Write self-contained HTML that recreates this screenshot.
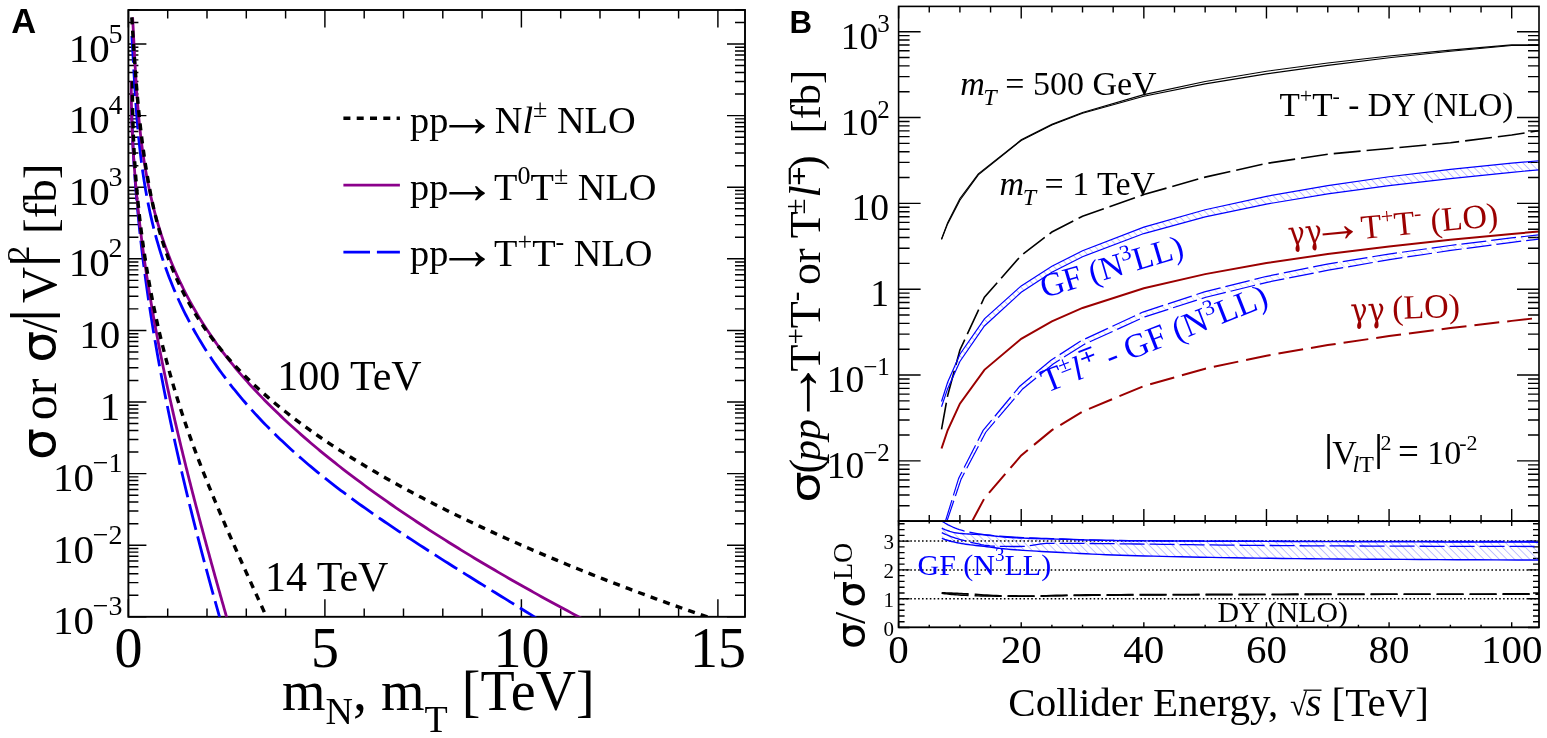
<!DOCTYPE html>
<html><head><meta charset="utf-8"><title>Cross sections</title>
<style>html,body{margin:0;padding:0;background:#fff;}svg{display:block;}</style></head>
<body><svg width="1547" height="738" viewBox="0 0 1547 738">
<rect width="1547" height="738" fill="#fff"/>
<path d="M128.4,616.8v-17.6M128.4,10v17.6M167.7,616.8v-8.4M167.7,10v8.4M207,616.8v-8.4M207,10v8.4M246.3,616.8v-8.4M246.3,10v8.4M285.6,616.8v-8.4M285.6,10v8.4M324.9,616.8v-17.6M324.9,10v17.6M364.2,616.8v-8.4M364.2,10v8.4M403.5,616.8v-8.4M403.5,10v8.4M442.8,616.8v-8.4M442.8,10v8.4M482.1,616.8v-8.4M482.1,10v8.4M521.4,616.8v-17.6M521.4,10v17.6M560.7,616.8v-8.4M560.7,10v8.4M600,616.8v-8.4M600,10v8.4M639.3,616.8v-8.4M639.3,10v8.4M678.6,616.8v-8.4M678.6,10v8.4M717.9,616.8v-17.6M717.9,10v17.6M128.4,616.8h18M745,616.8h-18M128.4,595.25h10M745,595.25h-10M128.4,582.64h10M745,582.64h-10M128.4,573.69h10M745,573.69h-10M128.4,566.75h10M745,566.75h-10M128.4,561.08h10M745,561.08h-10M128.4,556.29h10M745,556.29h-10M128.4,552.14h10M745,552.14h-10M128.4,548.48h10M745,548.48h-10M128.4,545.2h18M745,545.2h-18M128.4,523.65h10M745,523.65h-10M128.4,511.04h10M745,511.04h-10M128.4,502.09h10M745,502.09h-10M128.4,495.15h10M745,495.15h-10M128.4,489.48h10M745,489.48h-10M128.4,484.69h10M745,484.69h-10M128.4,480.54h10M745,480.54h-10M128.4,476.88h10M745,476.88h-10M128.4,473.6h18M745,473.6h-18M128.4,452.05h10M745,452.05h-10M128.4,439.44h10M745,439.44h-10M128.4,430.49h10M745,430.49h-10M128.4,423.55h10M745,423.55h-10M128.4,417.88h10M745,417.88h-10M128.4,413.09h10M745,413.09h-10M128.4,408.94h10M745,408.94h-10M128.4,405.28h10M745,405.28h-10M128.4,402h18M745,402h-18M128.4,380.45h10M745,380.45h-10M128.4,367.84h10M745,367.84h-10M128.4,358.89h10M745,358.89h-10M128.4,351.95h10M745,351.95h-10M128.4,346.28h10M745,346.28h-10M128.4,341.49h10M745,341.49h-10M128.4,337.34h10M745,337.34h-10M128.4,333.68h10M745,333.68h-10M128.4,330.4h18M745,330.4h-18M128.4,308.85h10M745,308.85h-10M128.4,296.24h10M745,296.24h-10M128.4,287.29h10M745,287.29h-10M128.4,280.35h10M745,280.35h-10M128.4,274.68h10M745,274.68h-10M128.4,269.89h10M745,269.89h-10M128.4,265.74h10M745,265.74h-10M128.4,262.08h10M745,262.08h-10M128.4,258.8h18M745,258.8h-18M128.4,237.25h10M745,237.25h-10M128.4,224.64h10M745,224.64h-10M128.4,215.69h10M745,215.69h-10M128.4,208.75h10M745,208.75h-10M128.4,203.08h10M745,203.08h-10M128.4,198.29h10M745,198.29h-10M128.4,194.14h10M745,194.14h-10M128.4,190.48h10M745,190.48h-10M128.4,187.2h18M745,187.2h-18M128.4,165.65h10M745,165.65h-10M128.4,153.04h10M745,153.04h-10M128.4,144.09h10M745,144.09h-10M128.4,137.15h10M745,137.15h-10M128.4,131.48h10M745,131.48h-10M128.4,126.69h10M745,126.69h-10M128.4,122.54h10M745,122.54h-10M128.4,118.88h10M745,118.88h-10M128.4,115.6h18M745,115.6h-18M128.4,94.05h10M745,94.05h-10M128.4,81.44h10M745,81.44h-10M128.4,72.49h10M745,72.49h-10M128.4,65.55h10M745,65.55h-10M128.4,59.88h10M745,59.88h-10M128.4,55.09h10M745,55.09h-10M128.4,50.94h10M745,50.94h-10M128.4,47.28h10M745,47.28h-10M128.4,44h18M745,44h-18M128.4,22.45h10M745,22.45h-10M128.4,9.84h10M745,9.84h-10" stroke="#000" stroke-width="1.45" fill="none"/>
<rect x="128.4" y="10.0" width="616.6" height="606.8" fill="none" stroke="#000" stroke-width="1.9"/>
<text x="128.4" y="667" font-family="'Liberation Serif','Times New Roman',serif" font-size="56" fill="#000" text-anchor="middle" >0</text>
<text x="324.9" y="667" font-family="'Liberation Serif','Times New Roman',serif" font-size="56" fill="#000" text-anchor="middle" >5</text>
<text x="521.4" y="667" font-family="'Liberation Serif','Times New Roman',serif" font-size="56" fill="#000" text-anchor="middle" >10</text>
<text x="717.9" y="667" font-family="'Liberation Serif','Times New Roman',serif" font-size="56" fill="#000" text-anchor="middle" >15</text>
<text x="122.6" y="634.3" font-family="'Liberation Serif','Times New Roman',serif" font-size="41" fill="#000" text-anchor="end" >10<tspan dx="-1.2" dy="-19" font-size="28">−3</tspan></text>
<text x="122.6" y="562.7" font-family="'Liberation Serif','Times New Roman',serif" font-size="41" fill="#000" text-anchor="end" >10<tspan dx="-1.2" dy="-19" font-size="28">−2</tspan></text>
<text x="122.6" y="491.1" font-family="'Liberation Serif','Times New Roman',serif" font-size="41" fill="#000" text-anchor="end" >10<tspan dx="-1.2" dy="-19" font-size="28">−1</tspan></text>
<text x="120.3" y="419.5" font-family="'Liberation Serif','Times New Roman',serif" font-size="41" fill="#000" text-anchor="end" >1</text>
<text x="120.3" y="347.9" font-family="'Liberation Serif','Times New Roman',serif" font-size="41" fill="#000" text-anchor="end" >10</text>
<text x="122.6" y="276.3" font-family="'Liberation Serif','Times New Roman',serif" font-size="41" fill="#000" text-anchor="end" >10<tspan dx="-1.2" dy="-19" font-size="28">2</tspan></text>
<text x="122.6" y="204.7" font-family="'Liberation Serif','Times New Roman',serif" font-size="41" fill="#000" text-anchor="end" >10<tspan dx="-1.2" dy="-19" font-size="28">3</tspan></text>
<text x="122.6" y="133.1" font-family="'Liberation Serif','Times New Roman',serif" font-size="41" fill="#000" text-anchor="end" >10<tspan dx="-1.2" dy="-19" font-size="28">4</tspan></text>
<text x="122.6" y="61.5" font-family="'Liberation Serif','Times New Roman',serif" font-size="41" fill="#000" text-anchor="end" >10<tspan dx="-1.2" dy="-19" font-size="28">5</tspan></text>
<text x="282" y="710" font-family="'Liberation Serif','Times New Roman',serif" font-size="56" fill="#000" text-anchor="start" >m<tspan dy="14" font-size="38">N</tspan><tspan dy="-14">, m</tspan><tspan dy="21.8" font-size="38">T</tspan><tspan dy="-21.8"> [TeV]</tspan></text>
<path d="M898.6,521.1v-12M898.6,6.4v12M898.6,627.3v-5M898.6,521.1v5M929.25,521.1v-6M929.25,6.4v6M929.25,627.3v-2.5M929.25,521.1v2.5M959.91,521.1v-6M959.91,6.4v6M959.91,627.3v-2.5M959.91,521.1v2.5M990.57,521.1v-6M990.57,6.4v6M990.57,627.3v-2.5M990.57,521.1v2.5M1021.22,521.1v-12M1021.22,6.4v12M1021.22,627.3v-5M1021.22,521.1v5M1051.88,521.1v-6M1051.88,6.4v6M1051.88,627.3v-2.5M1051.88,521.1v2.5M1082.53,521.1v-6M1082.53,6.4v6M1082.53,627.3v-2.5M1082.53,521.1v2.5M1113.18,521.1v-6M1113.18,6.4v6M1113.18,627.3v-2.5M1113.18,521.1v2.5M1143.84,521.1v-12M1143.84,6.4v12M1143.84,627.3v-5M1143.84,521.1v5M1174.49,521.1v-6M1174.49,6.4v6M1174.49,627.3v-2.5M1174.49,521.1v2.5M1205.15,521.1v-6M1205.15,6.4v6M1205.15,627.3v-2.5M1205.15,521.1v2.5M1235.81,521.1v-6M1235.81,6.4v6M1235.81,627.3v-2.5M1235.81,521.1v2.5M1266.46,521.1v-12M1266.46,6.4v12M1266.46,627.3v-5M1266.46,521.1v5M1297.12,521.1v-6M1297.12,6.4v6M1297.12,627.3v-2.5M1297.12,521.1v2.5M1327.77,521.1v-6M1327.77,6.4v6M1327.77,627.3v-2.5M1327.77,521.1v2.5M1358.43,521.1v-6M1358.43,6.4v6M1358.43,627.3v-2.5M1358.43,521.1v2.5M1389.08,521.1v-12M1389.08,6.4v12M1389.08,627.3v-5M1389.08,521.1v5M1419.74,521.1v-6M1419.74,6.4v6M1419.74,627.3v-2.5M1419.74,521.1v2.5M1450.39,521.1v-6M1450.39,6.4v6M1450.39,627.3v-2.5M1450.39,521.1v2.5M1481.05,521.1v-6M1481.05,6.4v6M1481.05,627.3v-2.5M1481.05,521.1v2.5M1511.7,521.1v-12M1511.7,6.4v12M1511.7,627.3v-5M1511.7,521.1v5M898.6,520.9h11M1539,520.9h-11M898.6,505.78h11M1539,505.78h-11M898.6,495.06h11M1539,495.06h-11M898.6,486.74h11M1539,486.74h-11M898.6,479.94h11M1539,479.94h-11M898.6,474.2h11M1539,474.2h-11M898.6,469.22h11M1539,469.22h-11M898.6,464.83h11M1539,464.83h-11M898.6,460.9h22M1539,460.9h-22M898.6,435.06h11M1539,435.06h-11M898.6,419.94h11M1539,419.94h-11M898.6,409.22h11M1539,409.22h-11M898.6,400.9h11M1539,400.9h-11M898.6,394.1h11M1539,394.1h-11M898.6,388.36h11M1539,388.36h-11M898.6,383.38h11M1539,383.38h-11M898.6,378.99h11M1539,378.99h-11M898.6,375.06h22M1539,375.06h-22M898.6,349.22h11M1539,349.22h-11M898.6,334.1h11M1539,334.1h-11M898.6,323.38h11M1539,323.38h-11M898.6,315.06h11M1539,315.06h-11M898.6,308.26h11M1539,308.26h-11M898.6,302.52h11M1539,302.52h-11M898.6,297.54h11M1539,297.54h-11M898.6,293.15h11M1539,293.15h-11M898.6,289.22h22M1539,289.22h-22M898.6,263.38h11M1539,263.38h-11M898.6,248.26h11M1539,248.26h-11M898.6,237.54h11M1539,237.54h-11M898.6,229.22h11M1539,229.22h-11M898.6,222.42h11M1539,222.42h-11M898.6,216.68h11M1539,216.68h-11M898.6,211.7h11M1539,211.7h-11M898.6,207.31h11M1539,207.31h-11M898.6,203.38h22M1539,203.38h-22M898.6,177.54h11M1539,177.54h-11M898.6,162.42h11M1539,162.42h-11M898.6,151.7h11M1539,151.7h-11M898.6,143.38h11M1539,143.38h-11M898.6,136.58h11M1539,136.58h-11M898.6,130.84h11M1539,130.84h-11M898.6,125.86h11M1539,125.86h-11M898.6,121.47h11M1539,121.47h-11M898.6,117.54h22M1539,117.54h-22M898.6,91.7h11M1539,91.7h-11M898.6,76.58h11M1539,76.58h-11M898.6,65.86h11M1539,65.86h-11M898.6,57.54h11M1539,57.54h-11M898.6,50.74h11M1539,50.74h-11M898.6,45h11M1539,45h-11M898.6,40.02h11M1539,40.02h-11M898.6,35.63h11M1539,35.63h-11M898.6,31.7h22M1539,31.7h-22M898.6,627.5h11M1539,627.5h-11M898.6,621.74h6M1539,621.74h-6M898.6,615.98h6M1539,615.98h-6M898.6,610.22h6M1539,610.22h-6M898.6,604.46h6M1539,604.46h-6M898.6,598.7h11M1539,598.7h-11M898.6,592.94h6M1539,592.94h-6M898.6,587.18h6M1539,587.18h-6M898.6,581.42h6M1539,581.42h-6M898.6,575.66h6M1539,575.66h-6M898.6,569.9h11M1539,569.9h-11M898.6,564.14h6M1539,564.14h-6M898.6,558.38h6M1539,558.38h-6M898.6,552.62h6M1539,552.62h-6M898.6,546.86h6M1539,546.86h-6M898.6,541.1h11M1539,541.1h-11M898.6,535.34h6M1539,535.34h-6M898.6,529.58h6M1539,529.58h-6M898.6,523.82h6M1539,523.82h-6" stroke="#000" stroke-width="1.4" fill="none"/>
<line x1="898.6" y1="598.7" x2="1539" y2="598.7" stroke="#000" stroke-width="1.5" stroke-dasharray="1.6 2.3"/>
<line x1="898.6" y1="569.9" x2="1539" y2="569.9" stroke="#000" stroke-width="1.5" stroke-dasharray="1.6 2.3"/>
<line x1="898.6" y1="541.1" x2="1539" y2="541.1" stroke="#000" stroke-width="1.5" stroke-dasharray="1.6 2.3"/>
<clipPath id="clipA"><rect x="128.4" y="10.0" width="616.6" height="606.8"/></clipPath>
<g clip-path="url(#clipA)" fill="none">
<path d="M131.56,107 L131.6,108.74 L131.65,110.47 L131.69,112.21 L131.74,113.94 L131.79,115.68 L131.84,117.41 L131.89,119.15 L131.95,120.89 L132,122.62 L132.06,124.36 L132.13,126.09 L132.19,127.83 L132.26,129.57 L132.33,131.3 L132.4,133.04 L132.47,134.77 L132.55,136.51 L132.62,138.24 L132.7,139.98 L132.78,141.72 L132.87,143.45 L132.95,145.19 L133.04,146.92 L133.13,148.66 L133.22,150.39 L133.32,152.13 L133.41,153.87 L133.51,155.6 L133.61,157.34 L133.71,159.07 L133.82,160.81 L133.93,162.55 L134.03,164.28 L134.15,166.02 L134.26,167.75 L134.37,169.49 L134.49,171.22 L134.61,172.96 L134.73,174.7 L134.85,176.43 L134.98,178.17 L135.11,179.9 L135.23,181.64 L135.37,183.37 L135.5,185.11 L135.63,186.85 L135.77,188.58 L135.91,190.32 L136.05,192.05 L136.19,193.79 L136.34,195.53 L136.49,197.26 L136.64,199 L136.79,200.73 L136.94,202.47 L137.1,204.2 L137.25,205.94 L137.41,207.68 L137.57,209.41 L137.74,211.15 L137.9,212.88 L138.07,214.62 L138.24,216.35 L138.41,218.09 L138.58,219.83 L138.75,221.56 L138.93,223.3 L139.11,225.03 L139.29,226.77 L139.47,228.51 L139.65,230.24 L139.84,231.98 L140.03,233.71 L140.22,235.45 L140.41,237.18 L140.6,238.92 L140.8,240.66 L140.99,242.39 L141.19,244.13 L141.39,245.86 L141.6,247.6 L141.8,249.33 L142.01,251.07 L142.22,252.81 L142.43,254.54 L142.64,256.28 L142.85,258.01 L143.07,259.75 L143.28,261.48 L143.5,263.22 L143.72,264.96 L143.95,266.69 L144.17,268.43 L144.4,270.16 L144.63,271.9 L144.86,273.64 L145.09,275.37 L145.32,277.11 L145.56,278.84 L145.79,280.58 L146.03,282.31 L146.27,284.05 L146.52,285.79 L146.76,287.52 L147.01,289.26 L147.25,290.99 L147.5,292.73 L147.75,294.46 L148.01,296.2 L148.26,297.94 L148.52,299.67 L148.78,301.41 L149.03,303.14 L149.3,304.88 L149.56,306.62 L149.82,308.35 L150.09,310.09 L150.36,311.82 L150.63,313.56 L150.9,315.29 L151.17,317.03 L151.45,318.77 L151.72,320.5 L152,322.24 L152.28,323.97 L152.56,325.71 L152.85,327.44 L153.13,329.18 L153.42,330.92 L153.71,332.65 L153.99,334.39 L154.29,336.12 L154.58,337.86 L154.87,339.6 L155.17,341.33 L155.47,343.07 L155.77,344.8 L156.07,346.54 L156.37,348.27 L156.67,350.01 L156.98,351.75 L157.29,353.48 L157.6,355.22 L157.91,356.95 L158.22,358.69 L158.53,360.42 L158.85,362.16 L159.16,363.9 L159.48,365.63 L159.8,367.37 L160.12,369.1 L160.45,370.84 L160.77,372.58 L161.1,374.31 L161.42,376.05 L161.75,377.78 L162.08,379.52 L162.41,381.25 L162.75,382.99 L163.08,384.73 L163.42,386.46 L163.76,388.2 L164.1,389.93 L164.44,391.67 L164.78,393.4 L165.12,395.14 L165.47,396.88 L165.81,398.61 L166.16,400.35 L166.51,402.08 L166.86,403.82 L167.22,405.56 L167.57,407.29 L167.93,409.03 L168.28,410.76 L168.64,412.5 L169,414.23 L169.36,415.97 L169.72,417.71 L170.09,419.44 L170.45,421.18 L170.82,422.91 L171.19,424.65 L171.56,426.38 L171.93,428.12 L172.3,429.86 L172.67,431.59 L173.05,433.33 L173.43,435.06 L173.8,436.8 L174.18,438.54 L174.56,440.27 L174.94,442.01 L175.33,443.74 L175.71,445.48 L176.1,447.21 L176.49,448.95 L176.87,450.69 L177.26,452.42 L177.65,454.16 L178.05,455.89 L178.44,457.63 L178.84,459.36 L179.23,461.1 L179.63,462.84 L180.03,464.57 L180.43,466.31 L180.83,468.04 L181.23,469.78 L181.64,471.52 L182.04,473.25 L182.45,474.99 L182.86,476.72 L183.27,478.46 L183.68,480.19 L184.09,481.93 L184.5,483.67 L184.92,485.4 L185.33,487.14 L185.75,488.87 L186.17,490.61 L186.59,492.34 L187.01,494.08 L187.43,495.82 L187.85,497.55 L188.27,499.29 L188.7,501.02 L189.12,502.76 L189.55,504.49 L189.98,506.23 L190.41,507.97 L190.84,509.7 L191.27,511.44 L191.71,513.17 L192.14,514.91 L192.58,516.65 L193.01,518.38 L193.45,520.12 L193.89,521.85 L194.33,523.59 L194.77,525.32 L195.22,527.06 L195.66,528.8 L196.1,530.53 L196.55,532.27 L197,534 L197.44,535.74 L197.89,537.47 L198.34,539.21 L198.8,540.95 L199.25,542.68 L199.7,544.42 L200.16,546.15 L200.61,547.89 L201.07,549.63 L201.53,551.36 L201.99,553.1 L202.45,554.83 L202.91,556.57 L203.37,558.3 L203.83,560.04 L204.3,561.78 L204.76,563.51 L205.23,565.25 L205.7,566.98 L206.16,568.72 L206.63,570.45 L207.1,572.19 L207.57,573.93 L208.05,575.66 L208.52,577.4 L208.99,579.13 L209.47,580.87 L209.95,582.61 L210.42,584.34 L210.9,586.08 L211.38,587.81 L211.86,589.55 L212.34,591.28 L212.83,593.02 L213.31,594.76 L213.79,596.49 L214.28,598.23 L214.76,599.96 L215.25,601.7 L215.74,603.43 L216.23,605.17 L216.72,606.91 L217.21,608.64 L217.7,610.38 L218.19,612.11 L218.68,613.85 L219.18,615.59 L219.67,617.32 L220.17,619.06 L220.67,620.79 L221.16,622.53 L221.66,624.26 L222.16,626" stroke="#0000ff" stroke-width="2.8" stroke-dasharray="26.6 6.9"/>
<path d="M131.27,81.5 L131.27,83.32 L131.27,85.14 L131.27,86.96 L131.27,88.78 L131.28,90.61 L131.29,92.43 L131.31,94.25 L131.32,96.07 L131.34,97.89 L131.37,99.71 L131.4,101.53 L131.42,103.35 L131.46,105.17 L131.49,106.99 L131.53,108.82 L131.57,110.64 L131.62,112.46 L131.67,114.28 L131.72,116.1 L131.77,117.92 L131.83,119.74 L131.89,121.56 L131.95,123.38 L132.02,125.21 L132.09,127.03 L132.16,128.85 L132.23,130.67 L132.31,132.49 L132.39,134.31 L132.47,136.13 L132.56,137.95 L132.65,139.77 L132.74,141.6 L132.84,143.42 L132.93,145.24 L133.03,147.06 L133.14,148.88 L133.24,150.7 L133.35,152.52 L133.46,154.34 L133.58,156.16 L133.7,157.98 L133.82,159.81 L133.94,161.63 L134.06,163.45 L134.19,165.27 L134.32,167.09 L134.46,168.91 L134.59,170.73 L134.73,172.55 L134.88,174.37 L135.02,176.2 L135.17,178.02 L135.32,179.84 L135.47,181.66 L135.62,183.48 L135.78,185.3 L135.94,187.12 L136.11,188.94 L136.27,190.76 L136.44,192.59 L136.61,194.41 L136.78,196.23 L136.96,198.05 L137.14,199.87 L137.32,201.69 L137.5,203.51 L137.69,205.33 L137.88,207.15 L138.07,208.97 L138.26,210.8 L138.46,212.62 L138.66,214.44 L138.86,216.26 L139.06,218.08 L139.27,219.9 L139.48,221.72 L139.69,223.54 L139.9,225.36 L140.12,227.19 L140.34,229.01 L140.56,230.83 L140.78,232.65 L141.01,234.47 L141.24,236.29 L141.47,238.11 L141.7,239.93 L141.93,241.75 L142.17,243.58 L142.41,245.4 L142.65,247.22 L142.9,249.04 L143.14,250.86 L143.39,252.68 L143.64,254.5 L143.9,256.32 L144.15,258.14 L144.41,259.96 L144.67,261.79 L144.93,263.61 L145.2,265.43 L145.46,267.25 L145.73,269.07 L146,270.89 L146.28,272.71 L146.55,274.53 L146.83,276.35 L147.11,278.18 L147.39,280 L147.68,281.82 L147.96,283.64 L148.25,285.46 L148.54,287.28 L148.84,289.1 L149.13,290.92 L149.43,292.74 L149.73,294.57 L150.03,296.39 L150.33,298.21 L150.64,300.03 L150.94,301.85 L151.25,303.67 L151.56,305.49 L151.88,307.31 L152.19,309.13 L152.51,310.95 L152.83,312.78 L153.15,314.6 L153.47,316.42 L153.8,318.24 L154.12,320.06 L154.45,321.88 L154.78,323.7 L155.12,325.52 L155.45,327.34 L155.79,329.17 L156.13,330.99 L156.47,332.81 L156.81,334.63 L157.15,336.45 L157.5,338.27 L157.85,340.09 L158.2,341.91 L158.55,343.73 L158.9,345.56 L159.26,347.38 L159.61,349.2 L159.97,351.02 L160.33,352.84 L160.7,354.66 L161.06,356.48 L161.43,358.3 L161.79,360.12 L162.16,361.94 L162.53,363.77 L162.91,365.59 L163.28,367.41 L163.66,369.23 L164.03,371.05 L164.41,372.87 L164.79,374.69 L165.18,376.51 L165.56,378.33 L165.95,380.16 L166.33,381.98 L166.72,383.8 L167.11,385.62 L167.51,387.44 L167.9,389.26 L168.3,391.08 L168.69,392.9 L169.09,394.72 L169.49,396.55 L169.89,398.37 L170.3,400.19 L170.7,402.01 L171.11,403.83 L171.52,405.65 L171.93,407.47 L172.34,409.29 L172.75,411.11 L173.16,412.93 L173.58,414.76 L174,416.58 L174.41,418.4 L174.83,420.22 L175.25,422.04 L175.68,423.86 L176.1,425.68 L176.53,427.5 L176.95,429.32 L177.38,431.15 L177.81,432.97 L178.24,434.79 L178.67,436.61 L179.11,438.43 L179.54,440.25 L179.98,442.07 L180.41,443.89 L180.85,445.71 L181.29,447.54 L181.73,449.36 L182.18,451.18 L182.62,453 L183.06,454.82 L183.51,456.64 L183.96,458.46 L184.41,460.28 L184.86,462.1 L185.31,463.92 L185.76,465.75 L186.21,467.57 L186.67,469.39 L187.12,471.21 L187.58,473.03 L188.04,474.85 L188.5,476.67 L188.96,478.49 L189.42,480.31 L189.88,482.14 L190.35,483.96 L190.81,485.78 L191.28,487.6 L191.74,489.42 L192.21,491.24 L192.68,493.06 L193.15,494.88 L193.62,496.7 L194.09,498.53 L194.57,500.35 L195.04,502.17 L195.52,503.99 L195.99,505.81 L196.47,507.63 L196.95,509.45 L197.43,511.27 L197.91,513.09 L198.39,514.91 L198.87,516.74 L199.35,518.56 L199.84,520.38 L200.32,522.2 L200.81,524.02 L201.29,525.84 L201.78,527.66 L202.27,529.48 L202.76,531.3 L203.25,533.13 L203.74,534.95 L204.23,536.77 L204.72,538.59 L205.22,540.41 L205.71,542.23 L206.2,544.05 L206.7,545.87 L207.2,547.69 L207.69,549.52 L208.19,551.34 L208.69,553.16 L209.19,554.98 L209.69,556.8 L210.19,558.62 L210.69,560.44 L211.19,562.26 L211.7,564.08 L212.2,565.9 L212.7,567.73 L213.21,569.55 L213.71,571.37 L214.22,573.19 L214.73,575.01 L215.23,576.83 L215.74,578.65 L216.25,580.47 L216.76,582.29 L217.27,584.12 L217.78,585.94 L218.29,587.76 L218.8,589.58 L219.31,591.4 L219.83,593.22 L220.34,595.04 L220.85,596.86 L221.37,598.68 L221.88,600.51 L222.4,602.33 L222.91,604.15 L223.43,605.97 L223.95,607.79 L224.46,609.61 L224.98,611.43 L225.5,613.25 L226.02,615.07 L226.54,616.89 L227.05,618.72 L227.57,620.54 L228.09,622.36 L228.61,624.18 L229.14,626" stroke="#8b008b" stroke-width="2.8"/>
<path d="M132.43,81.5 L132.42,83.32 L132.42,85.14 L132.42,86.96 L132.42,88.78 L132.42,90.61 L132.43,92.43 L132.44,94.25 L132.45,96.07 L132.47,97.89 L132.48,99.71 L132.5,101.53 L132.52,103.35 L132.55,105.17 L132.58,106.99 L132.61,108.82 L132.64,110.64 L132.68,112.46 L132.72,114.28 L132.76,116.1 L132.8,117.92 L132.85,119.74 L132.9,121.56 L132.95,123.38 L133,125.21 L133.06,127.03 L133.12,128.85 L133.19,130.67 L133.25,132.49 L133.32,134.31 L133.39,136.13 L133.47,137.95 L133.55,139.77 L133.63,141.6 L133.71,143.42 L133.8,145.24 L133.88,147.06 L133.98,148.88 L134.07,150.7 L134.17,152.52 L134.27,154.34 L134.37,156.16 L134.48,157.98 L134.59,159.81 L134.7,161.63 L134.82,163.45 L134.93,165.27 L135.05,167.09 L135.18,168.91 L135.31,170.73 L135.44,172.55 L135.57,174.37 L135.7,176.2 L135.84,178.02 L135.99,179.84 L136.13,181.66 L136.28,183.48 L136.43,185.3 L136.58,187.12 L136.74,188.94 L136.9,190.76 L137.06,192.59 L137.23,194.41 L137.4,196.23 L137.57,198.05 L137.75,199.87 L137.93,201.69 L138.11,203.51 L138.29,205.33 L138.48,207.15 L138.67,208.97 L138.87,210.8 L139.06,212.62 L139.26,214.44 L139.47,216.26 L139.68,218.08 L139.89,219.9 L140.1,221.72 L140.32,223.54 L140.54,225.36 L140.76,227.19 L140.99,229.01 L141.21,230.83 L141.45,232.65 L141.68,234.47 L141.92,236.29 L142.17,238.11 L142.41,239.93 L142.66,241.75 L142.91,243.58 L143.17,245.4 L143.43,247.22 L143.69,249.04 L143.96,250.86 L144.22,252.68 L144.5,254.5 L144.77,256.32 L145.05,258.14 L145.33,259.96 L145.62,261.79 L145.91,263.61 L146.2,265.43 L146.5,267.25 L146.8,269.07 L147.1,270.89 L147.41,272.71 L147.72,274.53 L148.03,276.35 L148.35,278.18 L148.67,280 L148.99,281.82 L149.32,283.64 L149.65,285.46 L149.98,287.28 L150.32,289.1 L150.66,290.92 L151,292.74 L151.35,294.57 L151.7,296.39 L152.06,298.21 L152.42,300.03 L152.78,301.85 L153.14,303.67 L153.51,305.49 L153.89,307.31 L154.26,309.13 L154.64,310.95 L155.03,312.78 L155.41,314.6 L155.8,316.42 L156.2,318.24 L156.6,320.06 L157,321.88 L157.4,323.7 L157.81,325.52 L158.22,327.34 L158.64,329.17 L159.06,330.99 L159.49,332.81 L159.91,334.63 L160.34,336.45 L160.78,338.27 L161.22,340.09 L161.66,341.91 L162.11,343.73 L162.56,345.56 L163.01,347.38 L163.47,349.2 L163.93,351.02 L164.39,352.84 L164.86,354.66 L165.33,356.48 L165.81,358.3 L166.29,360.12 L166.77,361.94 L167.26,363.77 L167.75,365.59 L168.25,367.41 L168.75,369.23 L169.25,371.05 L169.76,372.87 L170.27,374.69 L170.78,376.51 L171.3,378.33 L171.82,380.16 L172.35,381.98 L172.88,383.8 L173.41,385.62 L173.95,387.44 L174.49,389.26 L175.04,391.08 L175.59,392.9 L176.14,394.72 L176.7,396.55 L177.26,398.37 L177.83,400.19 L178.4,402.01 L178.97,403.83 L179.55,405.65 L180.13,407.47 L180.72,409.29 L181.31,411.11 L181.9,412.93 L182.5,414.76 L183.1,416.58 L183.71,418.4 L184.32,420.22 L184.93,422.04 L185.55,423.86 L186.18,425.68 L186.8,427.5 L187.43,429.32 L188.07,431.15 L188.71,432.97 L189.35,434.79 L190,436.61 L190.65,438.43 L191.3,440.25 L191.96,442.07 L192.62,443.89 L193.29,445.71 L193.95,447.54 L194.63,449.36 L195.3,451.18 L195.98,453 L196.67,454.82 L197.35,456.64 L198.04,458.46 L198.74,460.28 L199.43,462.1 L200.13,463.92 L200.84,465.75 L201.54,467.57 L202.25,469.39 L202.97,471.21 L203.68,473.03 L204.4,474.85 L205.12,476.67 L205.85,478.49 L206.58,480.31 L207.31,482.14 L208.04,483.96 L208.78,485.78 L209.52,487.6 L210.26,489.42 L211,491.24 L211.75,493.06 L212.5,494.88 L213.25,496.7 L214.01,498.53 L214.76,500.35 L215.52,502.17 L216.29,503.99 L217.05,505.81 L217.82,507.63 L218.59,509.45 L219.36,511.27 L220.13,513.09 L220.91,514.91 L221.68,516.74 L222.46,518.56 L223.25,520.38 L224.03,522.2 L224.81,524.02 L225.6,525.84 L226.39,527.66 L227.18,529.48 L227.98,531.3 L228.77,533.13 L229.57,534.95 L230.37,536.77 L231.17,538.59 L231.97,540.41 L232.77,542.23 L233.57,544.05 L234.38,545.87 L235.19,547.69 L236,549.52 L236.81,551.34 L237.62,553.16 L238.43,554.98 L239.24,556.8 L240.06,558.62 L240.87,560.44 L241.69,562.26 L242.51,564.08 L243.33,565.9 L244.15,567.73 L244.97,569.55 L245.79,571.37 L246.61,573.19 L247.44,575.01 L248.26,576.83 L249.09,578.65 L249.91,580.47 L250.74,582.29 L251.56,584.12 L252.39,585.94 L253.22,587.76 L254.05,589.58 L254.88,591.4 L255.71,593.22 L256.54,595.04 L257.37,596.86 L258.2,598.68 L259.03,600.51 L259.86,602.33 L260.69,604.15 L261.52,605.97 L262.35,607.79 L263.18,609.61 L264.01,611.43 L264.84,613.25 L265.67,615.07 L266.5,616.89 L267.33,618.72 L268.16,620.54 L268.99,622.36 L269.82,624.18 L270.65,626" stroke="#000" stroke-width="3.4" stroke-dasharray="7 6.3"/>
<path d="M131.89,36 L132,37.97 L132.12,39.93 L132.23,41.9 L132.35,43.87 L132.46,45.83 L132.57,47.8 L132.68,49.77 L132.79,51.73 L132.9,53.7 L133.01,55.67 L133.12,57.63 L133.23,59.6 L133.34,61.57 L133.45,63.53 L133.56,65.5 L133.67,67.46 L133.78,69.43 L133.89,71.4 L134,73.36 L134.11,75.33 L134.23,77.3 L134.34,79.26 L134.46,81.23 L134.57,83.2 L134.69,85.16 L134.81,87.13 L134.93,89.1 L135.05,91.06 L135.18,93.03 L135.3,95 L135.43,96.96 L135.56,98.93 L135.69,100.9 L135.83,102.86 L135.96,104.83 L136.1,106.8 L136.25,108.76 L136.39,110.73 L136.54,112.7 L136.69,114.66 L136.84,116.63 L136.99,118.6 L137.15,120.56 L137.32,122.53 L137.48,124.49 L137.65,126.46 L137.82,128.43 L138,130.39 L138.18,132.36 L138.36,134.33 L138.55,136.29 L138.75,138.26 L138.94,140.23 L139.14,142.19 L139.35,144.16 L139.56,146.13 L139.77,148.09 L139.99,150.06 L140.21,152.03 L140.44,153.99 L140.68,155.96 L140.92,157.93 L141.16,159.89 L141.41,161.86 L141.67,163.83 L141.93,165.79 L142.19,167.76 L142.47,169.73 L142.74,171.69 L143.03,173.66 L143.32,175.63 L143.61,177.59 L143.92,179.56 L144.23,181.53 L144.54,183.49 L144.86,185.46 L145.19,187.42 L145.53,189.39 L145.87,191.36 L146.22,193.32 L146.58,195.29 L146.94,197.26 L147.31,199.22 L147.69,201.19 L148.08,203.16 L148.47,205.12 L148.87,207.09 L149.28,209.06 L149.7,211.02 L150.13,212.99 L150.56,214.96 L151,216.92 L151.46,218.89 L151.91,220.86 L152.38,222.82 L152.86,224.79 L153.34,226.76 L153.84,228.72 L154.34,230.69 L154.85,232.66 L155.38,234.62 L155.91,236.59 L156.45,238.56 L157,240.52 L157.56,242.49 L158.13,244.45 L158.71,246.42 L159.29,248.39 L159.89,250.35 L160.5,252.32 L161.12,254.29 L161.75,256.25 L162.39,258.22 L163.04,260.19 L163.71,262.15 L164.38,264.12 L165.06,266.09 L165.76,268.05 L166.46,270.02 L167.18,271.99 L167.91,273.95 L168.65,275.92 L169.4,277.89 L170.16,279.85 L170.94,281.82 L171.72,283.79 L172.52,285.75 L173.33,287.72 L174.15,289.69 L174.99,291.65 L175.83,293.62 L176.69,295.59 L177.57,297.55 L178.45,299.52 L179.35,301.48 L180.26,303.45 L181.18,305.42 L182.12,307.38 L183.07,309.35 L184.03,311.32 L185.01,313.28 L186,315.25 L187,317.22 L188.02,319.18 L189.05,321.15 L190.1,323.12 L191.15,325.08 L192.23,327.05 L193.32,329.02 L194.42,330.98 L195.53,332.95 L196.66,334.92 L197.81,336.88 L198.97,338.85 L200.15,340.82 L201.34,342.78 L202.54,344.75 L203.76,346.72 L205,348.68 L206.25,350.65 L207.51,352.62 L208.8,354.58 L210.1,356.55 L211.41,358.52 L212.74,360.48 L214.08,362.45 L215.45,364.41 L216.82,366.38 L218.22,368.35 L219.63,370.31 L221.06,372.28 L222.5,374.25 L223.96,376.21 L225.44,378.18 L226.93,380.15 L228.44,382.11 L229.97,384.08 L231.52,386.05 L233.08,388.01 L234.66,389.98 L236.26,391.95 L237.87,393.91 L239.51,395.88 L241.16,397.85 L242.83,399.81 L244.51,401.78 L246.22,403.75 L247.94,405.71 L249.68,407.68 L251.44,409.65 L253.22,411.61 L255.02,413.58 L256.83,415.55 L258.67,417.51 L260.52,419.48 L262.39,421.44 L264.28,423.41 L266.19,425.38 L268.12,427.34 L270.07,429.31 L272.04,431.28 L274.03,433.24 L276.04,435.21 L278.06,437.18 L280.11,439.14 L282.18,441.11 L284.27,443.08 L286.37,445.04 L288.5,447.01 L290.65,448.98 L292.82,450.94 L295.01,452.91 L297.22,454.88 L299.45,456.84 L301.7,458.81 L303.97,460.78 L306.26,462.74 L308.58,464.71 L310.91,466.68 L313.27,468.64 L315.65,470.61 L318.05,472.58 L320.47,474.54 L322.91,476.51 L325.38,478.47 L327.87,480.44 L330.38,482.41 L332.91,484.37 L335.46,486.34 L338.03,488.31 L340.62,490.27 L343.24,492.24 L345.87,494.21 L348.52,496.17 L351.2,498.14 L353.89,500.11 L356.6,502.07 L359.32,504.04 L362.07,506.01 L364.83,507.97 L367.61,509.94 L370.41,511.91 L373.22,513.87 L376.05,515.84 L378.89,517.81 L381.75,519.77 L384.63,521.74 L387.51,523.71 L390.42,525.67 L393.33,527.64 L396.27,529.61 L399.21,531.57 L402.17,533.54 L405.13,535.51 L408.11,537.47 L411.11,539.44 L414.11,541.4 L417.13,543.37 L420.15,545.34 L423.19,547.3 L426.24,549.27 L429.29,551.24 L432.36,553.2 L435.43,555.17 L438.51,557.14 L441.6,559.1 L444.7,561.07 L447.81,563.04 L450.92,565 L454.04,566.97 L457.17,568.94 L460.3,570.9 L463.44,572.87 L466.59,574.84 L469.74,576.8 L472.89,578.77 L476.05,580.74 L479.21,582.7 L482.38,584.67 L485.55,586.64 L488.72,588.6 L491.89,590.57 L495.07,592.54 L498.25,594.5 L501.43,596.47 L504.61,598.43 L507.8,600.4 L510.98,602.37 L514.16,604.33 L517.35,606.3 L520.53,608.27 L523.71,610.23 L526.89,612.2 L530.07,614.17 L533.25,616.13 L536.42,618.1 L539.6,620.07 L542.77,622.03 L545.93,624" stroke="#0000ff" stroke-width="2.8" stroke-dasharray="26.6 6.9"/>
<path d="M132.58,17.3 L132.69,19.33 L132.8,21.35 L132.91,23.38 L133.01,25.4 L133.12,27.43 L133.23,29.45 L133.33,31.48 L133.43,33.51 L133.54,35.53 L133.64,37.56 L133.74,39.58 L133.85,41.61 L133.95,43.63 L134.05,45.66 L134.16,47.69 L134.26,49.71 L134.36,51.74 L134.47,53.76 L134.57,55.79 L134.68,57.82 L134.79,59.84 L134.9,61.87 L135.01,63.89 L135.12,65.92 L135.23,67.94 L135.34,69.97 L135.46,72 L135.58,74.02 L135.7,76.05 L135.82,78.07 L135.94,80.1 L136.07,82.12 L136.2,84.15 L136.33,86.18 L136.46,88.2 L136.6,90.23 L136.74,92.25 L136.88,94.28 L137.03,96.3 L137.18,98.33 L137.33,100.36 L137.49,102.38 L137.65,104.41 L137.81,106.43 L137.98,108.46 L138.15,110.48 L138.33,112.51 L138.51,114.54 L138.69,116.56 L138.88,118.59 L139.08,120.61 L139.28,122.64 L139.48,124.66 L139.69,126.69 L139.9,128.72 L140.12,130.74 L140.34,132.77 L140.57,134.79 L140.81,136.82 L141.05,138.85 L141.3,140.87 L141.55,142.9 L141.81,144.92 L142.07,146.95 L142.35,148.97 L142.62,151 L142.91,153.03 L143.2,155.05 L143.5,157.08 L143.8,159.1 L144.12,161.13 L144.44,163.15 L144.76,165.18 L145.1,167.21 L145.44,169.23 L145.79,171.26 L146.15,173.28 L146.51,175.31 L146.88,177.33 L147.27,179.36 L147.65,181.39 L148.05,183.41 L148.46,185.44 L148.87,187.46 L149.3,189.49 L149.73,191.51 L150.17,193.54 L150.63,195.57 L151.09,197.59 L151.56,199.62 L152.03,201.64 L152.52,203.67 L153.02,205.69 L153.53,207.72 L154.05,209.75 L154.58,211.77 L155.12,213.8 L155.67,215.82 L156.23,217.85 L156.8,219.88 L157.38,221.9 L157.97,223.93 L158.57,225.95 L159.19,227.98 L159.81,230 L160.45,232.03 L161.09,234.06 L161.75,236.08 L162.43,238.11 L163.11,240.13 L163.8,242.16 L164.51,244.18 L165.23,246.21 L165.96,248.24 L166.7,250.26 L167.46,252.29 L168.23,254.31 L169.01,256.34 L169.81,258.36 L170.61,260.39 L171.44,262.42 L172.27,264.44 L173.12,266.47 L173.98,268.49 L174.85,270.52 L175.74,272.54 L176.64,274.57 L177.56,276.6 L178.49,278.62 L179.44,280.65 L180.4,282.67 L181.37,284.7 L182.36,286.73 L183.36,288.75 L184.38,290.78 L185.41,292.8 L186.46,294.83 L187.52,296.85 L188.6,298.88 L189.69,300.91 L190.8,302.93 L191.93,304.96 L193.07,306.98 L194.23,309.01 L195.4,311.03 L196.59,313.06 L197.79,315.09 L199.02,317.11 L200.26,319.14 L201.51,321.16 L202.78,323.19 L204.07,325.21 L205.38,327.24 L206.7,329.27 L208.04,331.29 L209.4,333.32 L210.77,335.34 L212.17,337.37 L213.58,339.39 L215.01,341.42 L216.45,343.45 L217.92,345.47 L219.4,347.5 L220.9,349.52 L222.42,351.55 L223.96,353.57 L225.52,355.6 L227.09,357.63 L228.69,359.65 L230.3,361.68 L231.94,363.7 L233.59,365.73 L235.26,367.76 L236.95,369.78 L238.66,371.81 L240.39,373.83 L242.14,375.86 L243.91,377.88 L245.7,379.91 L247.51,381.94 L249.33,383.96 L251.18,385.99 L253.04,388.01 L254.93,390.04 L256.83,392.06 L258.75,394.09 L260.69,396.12 L262.65,398.14 L264.63,400.17 L266.63,402.19 L268.64,404.22 L270.68,406.24 L272.73,408.27 L274.8,410.3 L276.89,412.32 L279,414.35 L281.13,416.37 L283.28,418.4 L285.44,420.42 L287.63,422.45 L289.83,424.48 L292.05,426.5 L294.29,428.53 L296.55,430.55 L298.82,432.58 L301.12,434.61 L303.43,436.63 L305.76,438.66 L308.11,440.68 L310.48,442.71 L312.86,444.73 L315.27,446.76 L317.69,448.79 L320.13,450.81 L322.59,452.84 L325.07,454.86 L327.56,456.89 L330.07,458.91 L332.6,460.94 L335.15,462.97 L337.72,464.99 L340.3,467.02 L342.9,469.04 L345.52,471.07 L348.16,473.09 L350.82,475.12 L353.49,477.15 L356.18,479.17 L358.89,481.2 L361.62,483.22 L364.36,485.25 L367.12,487.27 L369.9,489.3 L372.7,491.33 L375.51,493.35 L378.34,495.38 L381.19,497.4 L384.05,499.43 L386.94,501.45 L389.84,503.48 L392.76,505.51 L395.69,507.53 L398.64,509.56 L401.61,511.58 L404.6,513.61 L407.6,515.64 L410.62,517.66 L413.66,519.69 L416.72,521.71 L419.79,523.74 L422.88,525.76 L425.98,527.79 L429.11,529.82 L432.24,531.84 L435.4,533.87 L438.57,535.89 L441.76,537.92 L444.97,539.94 L448.19,541.97 L451.43,544 L454.69,546.02 L457.97,548.05 L461.26,550.07 L464.56,552.1 L467.89,554.12 L471.22,556.15 L474.58,558.18 L477.95,560.2 L481.34,562.23 L484.75,564.25 L488.17,566.28 L491.61,568.3 L495.06,570.33 L498.53,572.36 L502.02,574.38 L505.52,576.41 L509.04,578.43 L512.58,580.46 L516.13,582.48 L519.7,584.51 L523.28,586.54 L526.88,588.56 L530.49,590.59 L534.13,592.61 L537.77,594.64 L541.44,596.67 L545.12,598.69 L548.81,600.72 L552.52,602.74 L556.25,604.77 L559.99,606.79 L563.75,608.82 L567.52,610.85 L571.31,612.87 L575.12,614.9 L578.94,616.92 L582.77,618.95 L586.62,620.97 L590.49,623" stroke="#8b008b" stroke-width="2.8"/>
<path d="M131.77,17.3 L131.9,19.32 L132.03,21.34 L132.16,23.36 L132.28,25.38 L132.41,27.4 L132.54,29.41 L132.67,31.43 L132.8,33.45 L132.93,35.47 L133.06,37.49 L133.19,39.51 L133.32,41.53 L133.45,43.55 L133.59,45.57 L133.72,47.59 L133.85,49.61 L133.99,51.62 L134.12,53.64 L134.26,55.66 L134.4,57.68 L134.54,59.7 L134.68,61.72 L134.82,63.74 L134.97,65.76 L135.11,67.78 L135.26,69.8 L135.41,71.81 L135.56,73.83 L135.71,75.85 L135.87,77.87 L136.03,79.89 L136.18,81.91 L136.35,83.93 L136.51,85.95 L136.67,87.97 L136.84,89.99 L137.01,92.01 L137.19,94.02 L137.36,96.04 L137.54,98.06 L137.72,100.08 L137.91,102.1 L138.09,104.12 L138.28,106.14 L138.48,108.16 L138.67,110.18 L138.87,112.2 L139.08,114.22 L139.28,116.23 L139.49,118.25 L139.71,120.27 L139.93,122.29 L140.15,124.31 L140.37,126.33 L140.6,128.35 L140.83,130.37 L141.07,132.39 L141.31,134.41 L141.56,136.42 L141.81,138.44 L142.06,140.46 L142.32,142.48 L142.58,144.5 L142.85,146.52 L143.12,148.54 L143.4,150.56 L143.68,152.58 L143.97,154.6 L144.26,156.62 L144.55,158.63 L144.85,160.65 L145.16,162.67 L145.47,164.69 L145.79,166.71 L146.11,168.73 L146.44,170.75 L146.78,172.77 L147.12,174.79 L147.46,176.81 L147.81,178.83 L148.17,180.84 L148.53,182.86 L148.9,184.88 L149.28,186.9 L149.66,188.92 L150.05,190.94 L150.44,192.96 L150.84,194.98 L151.25,197 L151.67,199.02 L152.09,201.03 L152.52,203.05 L152.96,205.07 L153.41,207.09 L153.87,209.11 L154.33,211.13 L154.81,213.15 L155.29,215.17 L155.79,217.19 L156.29,219.21 L156.8,221.23 L157.33,223.24 L157.86,225.26 L158.4,227.28 L158.96,229.3 L159.53,231.32 L160.11,233.34 L160.7,235.36 L161.3,237.38 L161.91,239.4 L162.54,241.42 L163.18,243.44 L163.83,245.45 L164.5,247.47 L165.18,249.49 L165.87,251.51 L166.58,253.53 L167.3,255.55 L168.04,257.57 L168.79,259.59 L169.55,261.61 L170.33,263.63 L171.13,265.64 L171.94,267.66 L172.77,269.68 L173.61,271.7 L174.47,273.72 L175.35,275.74 L176.24,277.76 L177.15,279.78 L178.08,281.8 L179.03,283.82 L179.99,285.84 L180.97,287.85 L181.97,289.87 L182.99,291.89 L184.02,293.91 L185.08,295.93 L186.15,297.95 L187.25,299.97 L188.36,301.99 L189.5,304.01 L190.65,306.03 L191.83,308.05 L193.02,310.06 L194.24,312.08 L195.48,314.1 L196.74,316.12 L198.02,318.14 L199.32,320.16 L200.64,322.18 L201.99,324.2 L203.36,326.22 L204.75,328.24 L206.17,330.25 L207.61,332.27 L209.07,334.29 L210.56,336.31 L212.07,338.33 L213.61,340.35 L215.17,342.37 L216.75,344.39 L218.36,346.41 L220,348.43 L221.66,350.45 L223.34,352.46 L225.06,354.48 L226.8,356.5 L228.56,358.52 L230.35,360.54 L232.17,362.56 L234.02,364.58 L235.89,366.6 L237.79,368.62 L239.72,370.64 L241.68,372.66 L243.67,374.67 L245.68,376.69 L247.73,378.71 L249.8,380.73 L251.9,382.75 L254.04,384.77 L256.2,386.79 L258.39,388.81 L260.61,390.83 L262.87,392.85 L265.15,394.86 L267.47,396.88 L269.81,398.9 L272.19,400.92 L274.59,402.94 L277.03,404.96 L279.5,406.98 L282,409 L284.53,411.02 L287.09,413.04 L289.68,415.06 L292.3,417.07 L294.95,419.09 L297.63,421.11 L300.34,423.13 L303.09,425.15 L305.86,427.17 L308.67,429.19 L311.5,431.21 L314.37,433.23 L317.26,435.25 L320.19,437.27 L323.15,439.28 L326.14,441.3 L329.16,443.32 L332.21,445.34 L335.29,447.36 L338.4,449.38 L341.54,451.4 L344.71,453.42 L347.91,455.44 L351.14,457.46 L354.41,459.47 L357.7,461.49 L361.02,463.51 L364.38,465.53 L367.76,467.55 L371.18,469.57 L374.63,471.59 L378.1,473.61 L381.61,475.63 L385.15,477.65 L388.72,479.67 L392.31,481.68 L395.94,483.7 L399.6,485.72 L403.3,487.74 L407.02,489.76 L410.77,491.78 L414.56,493.8 L418.37,495.82 L422.22,497.84 L426.1,499.86 L430,501.88 L433.94,503.89 L437.92,505.91 L441.92,507.93 L445.95,509.95 L450.02,511.97 L454.12,513.99 L458.25,516.01 L462.41,518.03 L466.6,520.05 L470.83,522.07 L475.08,524.08 L479.37,526.1 L483.69,528.12 L488.04,530.14 L492.43,532.16 L496.85,534.18 L501.3,536.2 L505.78,538.22 L510.29,540.24 L514.84,542.26 L519.42,544.28 L524.03,546.29 L528.67,548.31 L533.35,550.33 L538.06,552.35 L542.8,554.37 L547.58,556.39 L552.39,558.41 L557.23,560.43 L562.11,562.45 L567.02,564.47 L571.97,566.49 L576.95,568.5 L581.96,570.52 L587.01,572.54 L592.09,574.56 L597.21,576.58 L602.37,578.6 L607.56,580.62 L612.79,582.64 L618.05,584.66 L623.35,586.68 L628.68,588.69 L634.05,590.71 L639.46,592.73 L644.9,594.75 L650.38,596.77 L655.9,598.79 L661.46,600.81 L667.05,602.83 L672.68,604.85 L678.35,606.87 L684.05,608.89 L689.8,610.9 L695.58,612.92 L701.4,614.94 L707.27,616.96 L713.17,618.98 L719.1,621" stroke="#000" stroke-width="3.4" stroke-dasharray="7 6.3"/>
</g>
<line x1="343.4" y1="118.3" x2="399.9" y2="118.3" stroke="#000" stroke-width="3.4" stroke-dasharray="7 6.3"/>
<line x1="343.4" y1="185.2" x2="399.9" y2="185.2" stroke="#8b008b" stroke-width="2.8"/>
<line x1="343.4" y1="252.1" x2="399.9" y2="252.1" stroke="#0000ff" stroke-width="2.8" stroke-dasharray="26.6 6.9"/>
<text x="410" y="132.5" font-family="'Liberation Serif','Times New Roman',serif" font-size="38.3" fill="#000" text-anchor="start" >pp<tspan dx="-11.1" dy="3" font-size="60">→</tspan><tspan dy="-3" dx="-12"> N</tspan><tspan font-style="italic">l</tspan><tspan dy="-16" font-size="26">±</tspan><tspan dy="16"> NLO</tspan></text>
<text x="410" y="199.7" font-family="'Liberation Serif','Times New Roman',serif" font-size="38.3" fill="#000" text-anchor="start" >pp<tspan dx="-11.1" dy="3" font-size="60">→</tspan><tspan dy="-3" dx="-12"> T</tspan><tspan dy="-16" font-size="26">0</tspan><tspan dy="16">T</tspan><tspan dy="-16" font-size="26">±</tspan><tspan dy="16"> NLO</tspan></text>
<text x="410" y="266.1" font-family="'Liberation Serif','Times New Roman',serif" font-size="38.3" fill="#000" text-anchor="start" >pp<tspan dx="-11.1" dy="3" font-size="60">→</tspan><tspan dy="-3" dx="-12"> T</tspan><tspan dy="-16" font-size="26">+</tspan><tspan dy="16">T</tspan><tspan dy="-16" font-size="26">-</tspan><tspan dy="16"> NLO</tspan></text>
<text x="277.2" y="390" font-family="'Liberation Serif','Times New Roman',serif" font-size="42" fill="#000" text-anchor="start" >100 TeV</text>
<text x="265" y="591.2" font-family="'Liberation Serif','Times New Roman',serif" font-size="42" fill="#000" text-anchor="start" >14 TeV</text>
<clipPath id="clipB"><rect x="898.6" y="6.4" width="640.4" height="514.7"/></clipPath>
<clipPath id="clipR"><rect x="898.6" y="521.1" width="640.4" height="106.2"/></clipPath>
<pattern id="hatch" patternUnits="userSpaceOnUse" width="5.4" height="5.4" patternTransform="rotate(-45)"><line x1="0" y1="0" x2="0" y2="5.4" stroke="#7a7aff" stroke-width="0.9"/></pattern>
<g clip-path="url(#clipB)" fill="none">
<path d="M941.52,401.47 L947.65,382.26 L959.91,354.22 L984.43,318.83 L1021.22,285.88 L1051.88,266.29 L1082.53,250.77 L1143.84,227.15 L1205.15,209.77 L1266.46,196.32 L1327.77,185.56 L1389.08,176.74 L1450.39,169.39 L1511.7,163.17 L1538.68,160.73 L1538.68,169.78 L1511.7,172.33 L1450.39,178.56 L1389.08,185.61 L1327.77,193.91 L1266.46,204.08 L1205.15,216.87 L1143.84,233.56 L1082.53,256.7 L1051.88,272.29 L1021.22,292.25 L984.43,326 L959.91,361.48 L947.65,388.64 L941.52,406.77Z" fill="url(#hatch)" stroke="none"/>
<path d="M944.55,524 L958.71,478.11 L983.11,430.44 L1019.79,386.18 L1050.6,360.49 L1081.47,340.59 L1142.91,312.07 L1204.38,291.9 L1265.82,276.54 L1327.21,264.11 L1388.65,254.1 L1450.05,245.5 L1511.43,237.94 L1538.43,234.84 L1538.92,239.04 L1511.97,242.31 L1450.73,250.45 L1389.51,259.63 L1328.33,270.21 L1267.1,282.3 L1205.92,297.29 L1144.77,316.82 L1083.59,344.67 L1053.15,363.96 L1022.65,388.97 L985.76,432.22 L961.11,479.12 L945.84,524.42Z" fill="url(#hatch)" stroke="none" opacity="0.6"/>
<path d="M941.52,238.95 L947.65,222.67 L959.91,198.46 L978.3,173.87 L1021.22,139.84 L1051.88,124.4 L1082.53,112.51 L1143.84,94.64 L1205.15,81.51 L1266.46,71.27 L1327.77,62.95 L1389.08,56 L1450.39,50.08 L1511.7,44.94 L1539,44.94" stroke="#000" stroke-width="1.15"/>
<path d="M941.52,239.45 L947.65,223.87 L959.91,200.26 L978.3,174.87 L1021.22,140.44 L1051.88,125 L1082.53,113.31 L1143.84,96.24 L1205.15,83.91 L1266.46,73.87 L1327.77,65.35 L1389.08,57.8 L1450.39,51.28 L1511.7,45.54 L1539,45.54" stroke="#000" stroke-width="1.15"/>
<path d="M941.52,429.32 L947.65,395.58 L959.91,350.02 L984.43,297.26 L1021.22,255.34 L1051.88,232.05 L1082.53,216.22 L1143.84,194.58 L1205.15,177.12 L1266.46,163.42 L1327.77,154.22 L1389.08,148.46 L1450.39,142.77 L1511.7,135.06 L1538.68,130.76" stroke="#000" stroke-width="1.6" stroke-dasharray="27 6"/>
<path d="M941.52,401.47 L947.65,382.26 L959.91,354.22 L984.43,318.83 L1021.22,285.88 L1051.88,266.29 L1082.53,250.77 L1143.84,227.15 L1205.15,209.77 L1266.46,196.32 L1327.77,185.56 L1389.08,176.74 L1450.39,169.39 L1511.7,163.17 L1538.68,160.73" stroke="#0000ff" stroke-width="1.2"/>
<path d="M941.52,406.77 L947.65,388.64 L959.91,361.48 L984.43,326 L1021.22,292.25 L1051.88,272.29 L1082.53,256.7 L1143.84,233.56 L1205.15,216.87 L1266.46,204.08 L1327.77,193.91 L1389.08,185.61 L1450.39,178.56 L1511.7,172.33 L1538.68,169.78" stroke="#0000ff" stroke-width="1.2"/>
<path d="M944.55,524 L958.71,478.11 L983.11,430.44 L1019.79,386.18 L1050.6,360.49 L1081.47,340.59 L1142.91,312.07 L1204.38,291.9 L1265.82,276.54 L1327.21,264.11 L1388.65,254.1 L1450.05,245.5 L1511.43,237.94 L1538.43,234.84" stroke="#0000ff" stroke-width="1.2" stroke-dasharray="25 5"/>
<path d="M945.84,524.42 L961.11,479.12 L985.76,432.22 L1022.65,388.97 L1053.15,363.96 L1083.59,344.67 L1144.77,316.82 L1205.92,297.29 L1267.1,282.3 L1328.33,270.21 L1389.51,259.63 L1450.73,250.45 L1511.97,242.31 L1538.92,239.04" stroke="#0000ff" stroke-width="1.2" stroke-dasharray="25 5"/>
<path d="M941.52,448.54 L947.65,430.27 L959.91,403.67 L984.43,369.86 L1021.22,338.79 L1051.88,321.31 L1082.53,307.95 L1143.84,288.32 L1205.15,274.13 L1266.46,263.08 L1327.77,254.04 L1389.08,246.39 L1450.39,239.76 L1511.7,233.9 L1538.68,231.51" stroke="#9b0000" stroke-width="2.0"/>
<path d="M972.17,521.14 L984.43,498.26 L1021.22,455.41 L1051.88,430.18 L1082.53,411.59 L1143.84,386 L1205.15,368.69 L1266.46,355.65 L1327.77,345.08 L1389.08,336.07 L1450.39,328.11 L1511.7,320.88 L1538.68,317.88" stroke="#9b0000" stroke-width="2.0" stroke-dasharray="25 8"/>
</g>
<g clip-path="url(#clipR)" fill="none">
<path d="M941.8,528.2 L943.3,528.89 L944.85,529.56 L946.46,530.19 L948.12,530.79 L949.84,531.35 L951.62,531.86 L953.46,532.31 L955.36,532.72 L957.33,533.06 L959.37,533.33 L961.48,533.54 L963.67,533.71 L965.92,533.85 L968.26,533.97 L970.68,534.08 L973.18,534.19 L975.77,534.32 L978.45,534.47 L981.22,534.66 L984.09,534.91 L987.06,535.21 L990.13,535.55 L993.31,535.92 L996.6,536.29 L1000,536.65 L1003.52,537 L1007.16,537.3 L1010.93,537.56 L1014.83,537.76 L1018.87,537.95 L1023.04,538.12 L1027.37,538.28 L1031.84,538.43 L1036.46,538.57 L1041.25,538.71 L1046.2,538.84 L1051.33,538.98 L1056.63,539.12 L1062.11,539.27 L1067.79,539.42 L1073.67,539.59 L1079.74,539.76 L1086.03,539.93 L1092.54,540.1 L1099.27,540.26 L1106.24,540.4 L1113.45,540.52 L1120.91,540.61 L1128.63,540.69 L1136.61,540.76 L1144.88,540.83 L1153.43,540.89 L1162.28,540.95 L1171.43,541 L1180.9,541.05 L1190.7,541.1 L1200.84,541.14 L1211.34,541.19 L1222.2,541.23 L1233.43,541.27 L1245.06,541.31 L1257.08,541.35 L1269.53,541.4 L1282.41,541.44 L1295.73,541.48 L1309.52,541.53 L1323.79,541.58 L1338.55,541.63 L1353.83,541.68 L1369.63,541.73 L1385.99,541.78 L1402.91,541.84 L1420.42,541.89 L1438.53,541.94 L1457.28,541.99 L1476.68,542.04 L1496.75,542.1 L1517.51,542.15 L1539,542.2 L1539,560 L1517.51,559.94 L1496.75,559.87 L1476.68,559.79 L1457.28,559.71 L1438.53,559.62 L1420.42,559.52 L1402.91,559.42 L1385.99,559.31 L1369.63,559.2 L1353.83,559.09 L1338.55,558.97 L1323.79,558.85 L1309.52,558.72 L1295.73,558.58 L1282.41,558.43 L1269.53,558.28 L1257.08,558.11 L1245.06,557.95 L1233.43,557.77 L1222.2,557.59 L1211.34,557.4 L1200.84,557.21 L1190.7,557.01 L1180.9,556.8 L1171.43,556.59 L1162.28,556.37 L1153.43,556.15 L1144.88,555.93 L1136.61,555.7 L1128.63,555.47 L1120.91,555.23 L1113.45,554.98 L1106.24,554.7 L1099.27,554.41 L1092.54,554.1 L1086.03,553.78 L1079.74,553.46 L1073.67,553.14 L1067.79,552.83 L1062.11,552.53 L1056.63,552.25 L1051.33,551.97 L1046.2,551.7 L1041.25,551.44 L1036.46,551.17 L1031.84,550.9 L1027.37,550.63 L1023.04,550.35 L1018.87,550.06 L1014.83,549.75 L1010.93,549.44 L1007.16,549.09 L1003.52,548.73 L1000,548.34 L996.6,547.95 L993.31,547.55 L990.13,547.16 L987.06,546.78 L984.09,546.41 L981.22,546.06 L978.45,545.73 L975.77,545.43 L973.18,545.13 L970.68,544.83 L968.26,544.53 L965.92,544.23 L963.67,543.9 L961.48,543.56 L959.37,543.18 L957.33,542.79 L955.36,542.37 L953.46,541.94 L951.62,541.48 L949.84,541.01 L948.12,540.52 L946.46,540.01 L944.85,539.49 L943.3,538.95 L941.8,538.4Z" fill="url(#hatch)" stroke="none"/>
<path d="M941.8,528.2 L943.3,528.89 L944.85,529.56 L946.46,530.19 L948.12,530.79 L949.84,531.35 L951.62,531.86 L953.46,532.31 L955.36,532.72 L957.33,533.06 L959.37,533.33 L961.48,533.54 L963.67,533.71 L965.92,533.85 L968.26,533.97 L970.68,534.08 L973.18,534.19 L975.77,534.32 L978.45,534.47 L981.22,534.66 L984.09,534.91 L987.06,535.21 L990.13,535.55 L993.31,535.92 L996.6,536.29 L1000,536.65 L1003.52,537 L1007.16,537.3 L1010.93,537.56 L1014.83,537.76 L1018.87,537.95 L1023.04,538.12 L1027.37,538.28 L1031.84,538.43 L1036.46,538.57 L1041.25,538.71 L1046.2,538.84 L1051.33,538.98 L1056.63,539.12 L1062.11,539.27 L1067.79,539.42 L1073.67,539.59 L1079.74,539.76 L1086.03,539.93 L1092.54,540.1 L1099.27,540.26 L1106.24,540.4 L1113.45,540.52 L1120.91,540.61 L1128.63,540.69 L1136.61,540.76 L1144.88,540.83 L1153.43,540.89 L1162.28,540.95 L1171.43,541 L1180.9,541.05 L1190.7,541.1 L1200.84,541.14 L1211.34,541.19 L1222.2,541.23 L1233.43,541.27 L1245.06,541.31 L1257.08,541.35 L1269.53,541.4 L1282.41,541.44 L1295.73,541.48 L1309.52,541.53 L1323.79,541.58 L1338.55,541.63 L1353.83,541.68 L1369.63,541.73 L1385.99,541.78 L1402.91,541.84 L1420.42,541.89 L1438.53,541.94 L1457.28,541.99 L1476.68,542.04 L1496.75,542.1 L1517.51,542.15 L1539,542.2" stroke="#0000ff" stroke-width="1.4"/>
<path d="M941.8,538.4 L943.3,538.95 L944.85,539.49 L946.46,540.01 L948.12,540.52 L949.84,541.01 L951.62,541.48 L953.46,541.94 L955.36,542.37 L957.33,542.79 L959.37,543.18 L961.48,543.56 L963.67,543.9 L965.92,544.23 L968.26,544.53 L970.68,544.83 L973.18,545.13 L975.77,545.43 L978.45,545.73 L981.22,546.06 L984.09,546.41 L987.06,546.78 L990.13,547.16 L993.31,547.55 L996.6,547.95 L1000,548.34 L1003.52,548.73 L1007.16,549.09 L1010.93,549.44 L1014.83,549.75 L1018.87,550.06 L1023.04,550.35 L1027.37,550.63 L1031.84,550.9 L1036.46,551.17 L1041.25,551.44 L1046.2,551.7 L1051.33,551.97 L1056.63,552.25 L1062.11,552.53 L1067.79,552.83 L1073.67,553.14 L1079.74,553.46 L1086.03,553.78 L1092.54,554.1 L1099.27,554.41 L1106.24,554.7 L1113.45,554.98 L1120.91,555.23 L1128.63,555.47 L1136.61,555.7 L1144.88,555.93 L1153.43,556.15 L1162.28,556.37 L1171.43,556.59 L1180.9,556.8 L1190.7,557.01 L1200.84,557.21 L1211.34,557.4 L1222.2,557.59 L1233.43,557.77 L1245.06,557.95 L1257.08,558.11 L1269.53,558.28 L1282.41,558.43 L1295.73,558.58 L1309.52,558.72 L1323.79,558.85 L1338.55,558.97 L1353.83,559.09 L1369.63,559.2 L1385.99,559.31 L1402.91,559.42 L1420.42,559.52 L1438.53,559.62 L1457.28,559.71 L1476.68,559.79 L1496.75,559.87 L1517.51,559.94 L1539,560" stroke="#0000ff" stroke-width="1.4"/>
<path d="M941.8,521.1 L943.3,522.07 L944.85,523.01 L946.46,523.93 L948.12,524.82 L949.84,525.69 L951.62,526.52 L953.46,527.33 L955.36,528.1 L957.33,528.84 L959.37,529.55 L961.48,530.22 L963.67,530.85 L965.92,531.44 L968.26,531.99 L970.68,532.49 L973.18,532.96 L975.77,533.39 L978.45,533.81 L981.22,534.21 L984.09,534.58 L987.06,534.94 L990.13,535.27 L993.31,535.59 L996.6,535.9 L1000,536.18 L1003.52,536.45 L1007.16,536.71 L1010.93,536.95 L1014.83,537.18 L1018.87,537.39 L1023.04,537.59 L1027.37,537.78 L1031.84,537.96 L1036.46,538.13 L1041.25,538.29 L1046.2,538.46 L1051.33,538.62 L1056.63,538.79 L1062.11,538.96 L1067.79,539.14 L1073.67,539.34 L1079.74,539.55 L1086.03,539.76 L1092.54,539.96 L1099.27,540.15 L1106.24,540.3 L1113.45,540.43 L1120.91,540.51 L1128.63,540.57 L1136.61,540.63 L1144.88,540.69 L1153.43,540.74 L1162.28,540.79 L1171.43,540.85 L1180.9,540.9 L1190.7,540.94 L1200.84,540.99 L1211.34,541.04 L1222.2,541.08 L1233.43,541.12 L1245.06,541.16 L1257.08,541.19 L1269.53,541.23 L1282.41,541.26 L1295.73,541.29 L1309.52,541.32 L1323.79,541.35 L1338.55,541.37 L1353.83,541.39 L1369.63,541.41 L1385.99,541.43 L1402.91,541.45 L1420.42,541.46 L1438.53,541.47 L1457.28,541.48 L1476.68,541.49 L1496.75,541.5 L1517.51,541.5 L1539,541.5" stroke="#0000ff" stroke-width="1.3" stroke-dasharray="25 5"/>
<path d="M941.8,532.6 L943.3,533.33 L944.85,534.05 L946.46,534.76 L948.12,535.45 L949.84,536.13 L951.62,536.79 L953.46,537.44 L955.36,538.07 L957.33,538.68 L959.37,539.28 L961.48,539.86 L963.67,540.42 L965.92,540.97 L968.26,541.55 L970.68,542.16 L973.18,542.78 L975.77,543.39 L978.45,543.99 L981.22,544.55 L984.09,545.06 L987.06,545.51 L990.13,545.89 L993.31,546.17 L996.6,546.35 L1000,546.41 L1003.52,546.44 L1007.16,546.46 L1010.93,546.48 L1014.83,546.49 L1018.87,546.5 L1023.04,546.44 L1027.37,546.04 L1031.84,545.38 L1036.46,544.62 L1041.25,543.91 L1046.2,543.43 L1051.33,543.3 L1056.63,543.31 L1062.11,543.33 L1067.79,543.36 L1073.67,543.39 L1079.74,543.43 L1086.03,543.47 L1092.54,543.52 L1099.27,543.57 L1106.24,543.63 L1113.45,543.71 L1120.91,543.79 L1128.63,543.88 L1136.61,543.98 L1144.88,544.09 L1153.43,544.2 L1162.28,544.32 L1171.43,544.44 L1180.9,544.56 L1190.7,544.69 L1200.84,544.81 L1211.34,544.93 L1222.2,545.06 L1233.43,545.18 L1245.06,545.3 L1257.08,545.41 L1269.53,545.52 L1282.41,545.62 L1295.73,545.71 L1309.52,545.8 L1323.79,545.87 L1338.55,545.94 L1353.83,546 L1369.63,546.06 L1385.99,546.12 L1402.91,546.18 L1420.42,546.23 L1438.53,546.28 L1457.28,546.33 L1476.68,546.38 L1496.75,546.42 L1517.51,546.46 L1539,546.5" stroke="#0000ff" stroke-width="1.3" stroke-dasharray="25 5"/>
<path d="M941.7,592.9 L943.2,592.94 L944.75,592.99 L946.35,593.04 L948.01,593.1 L949.73,593.17 L951.5,593.24 L953.34,593.32 L955.24,593.41 L957.21,593.5 L959.25,593.59 L961.36,593.69 L963.54,593.79 L965.79,593.9 L968.13,594 L970.55,594.13 L973.05,594.28 L975.63,594.45 L978.31,594.64 L981.08,594.84 L983.95,595.04 L986.91,595.23 L989.98,595.4 L993.16,595.56 L996.44,595.69 L999.84,595.78 L1003.36,595.84 L1007,595.89 L1010.77,595.94 L1014.66,595.99 L1018.7,596.03 L1022.87,596.06 L1027.19,596.08 L1031.66,596.1 L1036.28,596.1 L1041.06,596.02 L1046.01,595.87 L1051.14,595.69 L1056.44,595.49 L1061.92,595.32 L1067.6,595.21 L1073.47,595.14 L1079.55,595.07 L1085.84,595.02 L1092.34,594.96 L1099.07,594.91 L1106.04,594.87 L1113.25,594.82 L1120.71,594.78 L1128.43,594.75 L1136.41,594.71 L1144.68,594.68 L1153.23,594.65 L1162.07,594.62 L1171.23,594.59 L1180.7,594.56 L1190.51,594.53 L1200.65,594.5 L1211.15,594.47 L1222.01,594.44 L1233.24,594.41 L1244.87,594.38 L1256.91,594.35 L1269.36,594.33 L1282.24,594.3 L1295.57,594.27 L1309.37,594.25 L1323.64,594.22 L1338.41,594.2 L1353.69,594.18 L1369.51,594.15 L1385.87,594.13 L1402.8,594.11 L1420.32,594.09 L1438.45,594.08 L1457.21,594.06 L1476.62,594.04 L1496.71,594.03 L1517.49,594.01 L1539,594" stroke="#000" stroke-width="1.8" stroke-dasharray="27 6"/>
<path d="M941.7,593.3 L943.2,593.51 L944.75,593.71 L946.35,593.9 L948.01,594.09 L949.73,594.28 L951.5,594.45 L953.34,594.62 L955.24,594.77 L957.21,594.92 L959.25,595.06 L961.36,595.19 L963.54,595.3 L965.79,595.41 L968.13,595.5 L970.55,595.59 L973.05,595.68 L975.63,595.76 L978.31,595.85 L981.08,595.93 L983.95,596 L986.91,596.06 L989.98,596.11 L993.16,596.16 L996.44,596.19 L999.84,596.2 L1003.36,596.2 L1007,596.2 L1010.77,596.19 L1014.66,596.18 L1018.7,596.17 L1022.87,596.15 L1027.19,596.13 L1031.66,596.12 L1036.28,596.09 L1041.06,596.04 L1046.01,595.97 L1051.14,595.87 L1056.44,595.77 L1061.92,595.68 L1067.6,595.6 L1073.47,595.54 L1079.55,595.48 L1085.84,595.43 L1092.34,595.37 L1099.07,595.31 L1106.04,595.26 L1113.25,595.21 L1120.71,595.16 L1128.43,595.11 L1136.41,595.07 L1144.68,595.02 L1153.23,594.98 L1162.07,594.94 L1171.23,594.9 L1180.7,594.86 L1190.51,594.83 L1200.65,594.8 L1211.15,594.77 L1222.01,594.74 L1233.24,594.71 L1244.87,594.68 L1256.91,594.65 L1269.36,594.62 L1282.24,594.59 L1295.57,594.56 L1309.37,594.54 L1323.64,594.51 L1338.41,594.49 L1353.69,594.46 L1369.51,594.44 L1385.87,594.42 L1402.8,594.4 L1420.32,594.38 L1438.45,594.36 L1457.21,594.35 L1476.62,594.33 L1496.71,594.32 L1517.49,594.31 L1539,594.3" stroke="#000" stroke-width="1.4" stroke-dasharray="27 6"/>
</g>
<rect x="898.6" y="6.4" width="640.4" height="514.7" fill="none" stroke="#000" stroke-width="1.6"/>
<rect x="898.6" y="521.1" width="640.4" height="106.2" fill="none" stroke="#000" stroke-width="1.8"/>
<text x="898.6" y="663.4" font-family="'Liberation Serif','Times New Roman',serif" font-size="41" fill="#000" text-anchor="middle" >0</text>
<text x="1021.22" y="663.4" font-family="'Liberation Serif','Times New Roman',serif" font-size="41" fill="#000" text-anchor="middle" >20</text>
<text x="1143.84" y="663.4" font-family="'Liberation Serif','Times New Roman',serif" font-size="41" fill="#000" text-anchor="middle" >40</text>
<text x="1266.46" y="663.4" font-family="'Liberation Serif','Times New Roman',serif" font-size="41" fill="#000" text-anchor="middle" >60</text>
<text x="1389.08" y="663.4" font-family="'Liberation Serif','Times New Roman',serif" font-size="41" fill="#000" text-anchor="middle" >80</text>
<text x="1511.7" y="663.4" font-family="'Liberation Serif','Times New Roman',serif" font-size="41" fill="#000" text-anchor="middle" >100</text>
<text x="889.8" y="477.9" font-family="'Liberation Serif','Times New Roman',serif" font-size="37.5" fill="#000" text-anchor="end" >10<tspan dx="-1" dy="-17" font-size="25">−2</tspan></text>
<text x="889.8" y="392.06" font-family="'Liberation Serif','Times New Roman',serif" font-size="37.5" fill="#000" text-anchor="end" >10<tspan dx="-1" dy="-17" font-size="25">−1</tspan></text>
<text x="889" y="306.22" font-family="'Liberation Serif','Times New Roman',serif" font-size="37.5" fill="#000" text-anchor="end" >1</text>
<text x="889" y="220.38" font-family="'Liberation Serif','Times New Roman',serif" font-size="37.5" fill="#000" text-anchor="end" >10</text>
<text x="889.8" y="134.54" font-family="'Liberation Serif','Times New Roman',serif" font-size="37.5" fill="#000" text-anchor="end" >10<tspan dx="-1" dy="-17" font-size="25">2</tspan></text>
<text x="889.8" y="48.7" font-family="'Liberation Serif','Times New Roman',serif" font-size="37.5" fill="#000" text-anchor="end" >10<tspan dx="-1" dy="-17" font-size="25">3</tspan></text>
<text x="894" y="635.5" font-family="'Liberation Serif','Times New Roman',serif" font-size="21" fill="#000" text-anchor="end" >0</text>
<text x="894" y="606.7" font-family="'Liberation Serif','Times New Roman',serif" font-size="21" fill="#000" text-anchor="end" >1</text>
<text x="894" y="577.9" font-family="'Liberation Serif','Times New Roman',serif" font-size="21" fill="#000" text-anchor="end" >2</text>
<text x="894" y="549.1" font-family="'Liberation Serif','Times New Roman',serif" font-size="21" fill="#000" text-anchor="end" >3</text>
<text x="960.3" y="95.1" font-family="'Liberation Serif','Times New Roman',serif" font-size="34" fill="#000" text-anchor="start" ><tspan font-style="italic">m</tspan><tspan dy="10" dx="-1.5" font-size="24" font-style="italic">T</tspan><tspan dy="-10"> = 500 GeV</tspan></text>
<text x="999.6" y="194.8" font-family="'Liberation Serif','Times New Roman',serif" font-size="34" fill="#000" text-anchor="start" ><tspan font-style="italic">m</tspan><tspan dy="10.5" dx="-1.5" font-size="24" font-style="italic">T</tspan><tspan dy="-10.5"> = 1 TeV</tspan></text>
<text x="1279.5" y="115.5" font-family="'Liberation Serif','Times New Roman',serif" font-size="33.3" fill="#000" text-anchor="start" >T<tspan dy="-13" font-size="22">+</tspan><tspan dy="13">T</tspan><tspan dy="-13" font-size="22">-</tspan><tspan dy="13"> - DY (NLO)</tspan></text>
<text font-family="'Liberation Serif','Times New Roman',serif" font-size="34" fill="#9b0000" transform="translate(1362,238.9) rotate(-5.5)"><tspan x="-49.2" dy="0.5" font-size="51.4">→</tspan><tspan x="0" dy="-0.5">T</tspan><tspan dy="-13" font-size="22">+</tspan><tspan dy="13">T</tspan><tspan dy="-13" font-size="22">-</tspan><tspan dy="13"> (LO)</tspan></text>
<text font-family="'DejaVu Serif',serif" font-size="31" fill="#9b0000" transform="translate(1289,245.8) rotate(-5.5) scale(0.92,1.1)">γγ</text>
<text font-family="'Liberation Serif','Times New Roman',serif" font-size="34" fill="#9b0000" transform="translate(1351,320.6) rotate(-2)"><tspan x="41.5">(LO)</tspan></text>
<text font-family="'DejaVu Serif',serif" font-size="31" fill="#9b0000" transform="translate(1350.8,322.3) rotate(-2) scale(0.93,1.1)">γγ</text>
<text x="1324.4" y="464.2" font-family="'Liberation Serif','Times New Roman',serif" font-size="34" fill="#000" text-anchor="start" ><tspan dy="-3" font-size="37" font-weight="bold">|</tspan><tspan x="1332.3" dy="3">V</tspan><tspan x="1352.5" dy="8" font-size="24"><tspan font-style="italic">l</tspan>T</tspan><tspan x="1374.5" dy="-11" font-size="37" font-weight="bold">|</tspan><tspan x="1380.6" dy="-11" font-size="22">2</tspan><tspan x="1398" dy="14" font-size="37">=</tspan><tspan x="1427.3">10</tspan><tspan x="1459.3" dy="-14" font-size="22">-2</tspan></text>
<text x="917.5" y="575" font-family="'Liberation Serif','Times New Roman',serif" font-size="30" fill="#0000ff" text-anchor="start" >GF (N<tspan dy="-14" font-size="19">3</tspan><tspan dy="14">LL)</tspan></text>
<text x="1217.5" y="621.6" font-family="'Liberation Serif','Times New Roman',serif" font-size="29.8" fill="#000" text-anchor="start" >DY (NLO)</text>
<text font-family="'Liberation Serif','Times New Roman',serif" font-size="33" fill="#0000ff" transform="translate(1044,298) rotate(-16.5)">GF (N<tspan dy="-13" font-size="22">3</tspan><tspan dy="13">LL)</tspan></text>
<text font-family="'Liberation Serif','Times New Roman',serif" font-size="34" fill="#0000ff" transform="translate(1046.5,393) rotate(-21.5)">T<tspan dy="-13" font-size="22">±</tspan><tspan dy="13" font-style="italic">l</tspan><tspan dy="-13" font-size="22">∓</tspan><tspan dy="13"> - GF (N</tspan><tspan dy="-13" font-size="22">3</tspan><tspan dy="13">LL)</tspan></text>
<text x="1008.3" y="716.2" font-family="'Liberation Serif','Times New Roman',serif" font-size="41" fill="#000" text-anchor="start" >Collider Energy,<tspan x="1290" dy="-1.5" font-size="31">√</tspan><tspan x="1305.5" dy="1.5" font-style="italic">s</tspan><tspan x="1331.6">[TeV]</tspan></text>
<line x1="1303.5" y1="690.2" x2="1321.5" y2="690.2" stroke="#000" stroke-width="1.3"/>
<text font-family="'Liberation Serif','Times New Roman',serif" font-size="44" fill="#000" transform="translate(820,501) rotate(-90)"><tspan x="27.5">(</tspan><tspan x="40" font-size="42" font-style="italic">pp</tspan><tspan x="76.6" dy="-1" font-size="65">→</tspan><tspan x="129.5" dy="1">T</tspan><tspan dy="-15" font-size="29">+</tspan><tspan dy="15">T</tspan><tspan dy="-15" font-size="29">-</tspan><tspan x="216" dy="15">or T</tspan><tspan dy="-15" x="286.5" font-size="29">±</tspan><tspan dy="15" x="303.5" font-style="italic">l</tspan><tspan dy="-15" x="314" font-size="26">∓</tspan><tspan dy="15" x="331">)</tspan><tspan x="367.5" font-size="42.5">[fb]</tspan></text>
<text font-family="'DejaVu Sans',sans-serif" font-size="41" fill="#000" text-anchor="middle" transform="translate(818.5,487) rotate(-90) scale(1.21,1)">σ</text>
<text font-family="'Liberation Serif','Times New Roman',serif" font-size="44" fill="#000" transform="translate(865,647) rotate(-90)"><tspan x="23">/</tspan><tspan x="67" dy="-13.3" font-size="28">LO</tspan></text>
<text font-family="'DejaVu Sans',sans-serif" font-size="39.3" fill="#000" text-anchor="middle" transform="translate(863.5,635.5) rotate(-90) scale(1.08,1)">σ</text>
<text font-family="'DejaVu Sans',sans-serif" font-size="39.3" fill="#000" text-anchor="middle" transform="translate(863.5,594.2) rotate(-90) scale(1.08,1)">σ</text>
<text font-family="'Liberation Serif','Times New Roman',serif" font-size="50" fill="#000" transform="translate(56,457) rotate(-90)"><tspan x="36.7">or</tspan><tspan x="124">/</tspan><tspan x="135.6" dy="-8.5" font-size="55" font-weight="bold">|</tspan><tspan x="154" dy="8.5">V</tspan><tspan x="190" dy="-8.5" font-size="55" font-weight="bold">|</tspan><tspan x="195" dy="-19" font-size="32.4">2</tspan><tspan x="223" dy="27.5" font-size="47">[fb]</tspan></text>
<text font-family="'DejaVu Sans',sans-serif" font-size="48" fill="#000" text-anchor="middle" transform="translate(55.2,444) rotate(-90) scale(1.05,1)">σ</text>
<text font-family="'DejaVu Sans',sans-serif" font-size="48" fill="#000" text-anchor="middle" transform="translate(55,346.9) rotate(-90) scale(1.05,1)">σ</text>
<text x="11.3" y="33" font-family="'Liberation Sans',Arial,sans-serif" font-size="34.5" fill="#000" text-anchor="start" font-weight="bold">A</text>
<text x="789.6" y="33" font-family="'Liberation Sans',Arial,sans-serif" font-size="31.2" fill="#000" text-anchor="start" font-weight="bold">B</text>
</svg></body></html>
